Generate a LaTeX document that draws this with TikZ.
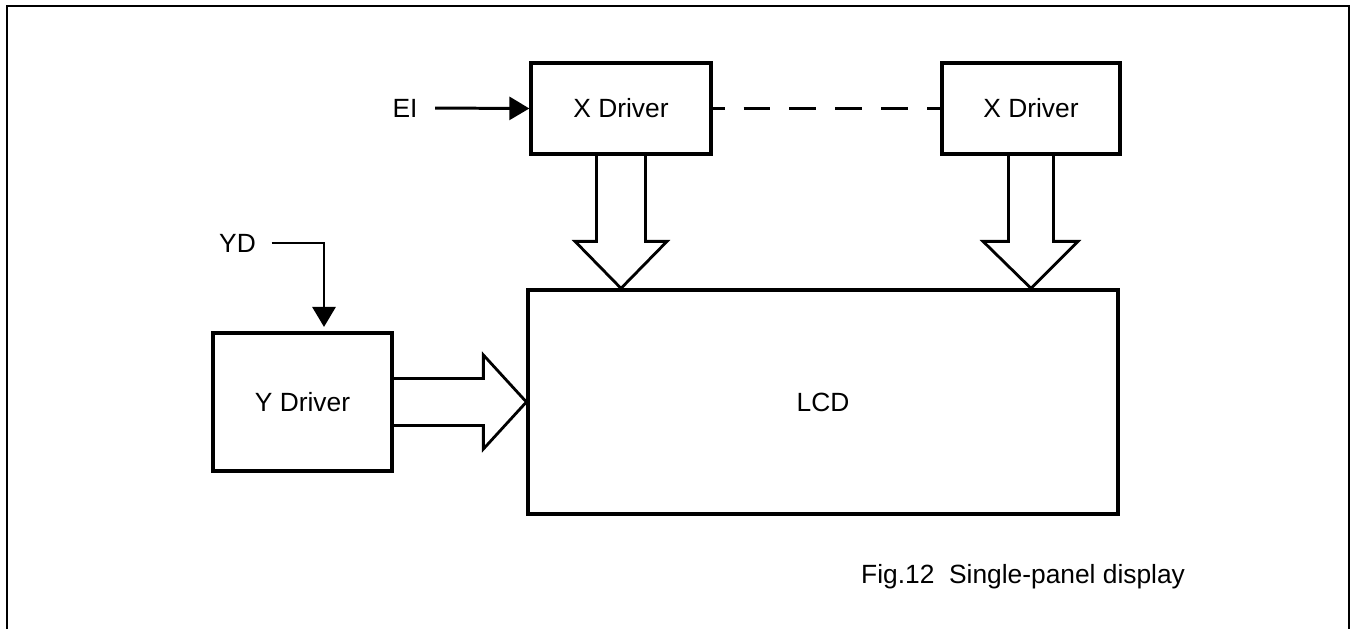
\documentclass[tikz,border=0pt]{standalone}
\usepackage{fontspec}
\setmainfont{Liberation Sans}
\usetikzlibrary{
		arrows.meta,
		calc
	}
\tikzset{
		>={Triangle[length=0.4cm,width=0.46cm]},
		block/.style={draw, line width=1.9pt, inner sep=0pt},
		sig/.style={->, line width=1.7pt},
		bus/.style={line width=1.6pt, line join=miter}
	}

\begin{document}
\begin{tikzpicture}[x=0.02cm, y=0.02cm, font=\fontsize{15}{18}\selectfont]
              \useasboundingbox (0,0) rectangle (1354,629);

              % the frame round the figure
              \draw[line width=1.4pt] (7,0) -- (7,623) -- (1349,623) -- (1349,0);

              % the blocks
              \node[block, minimum width=3.6cm, minimum height=1.82cm] (xd1) at (621,520.5) {X Driver};
              \node[block, minimum width=3.56cm, minimum height=1.82cm] (xd2) at (1031,520.5) {X Driver};
              \node[block, minimum width=3.58cm, minimum height=2.76cm] (yd) at (302.5,227) {Y Driver};
              \node[block, minimum width=11.8cm, minimum height=4.48cm] (lcd) at (823,227) {LCD};

              % the inputs and the caption
              \node (ei) at (405,521) {EI};
              \node (ydin) at (237.5,386) {YD};
              \node[anchor=west] (cap) at (855,52) {Fig.12\ \ Single-panel display};

              % the signal lines
              \draw[sig, shorten <=6.5pt] (ei.east) -- (xd1.west);
              \draw[sig, shorten <=5.4pt, shorten >=2.5pt] (ydin.east) -| ($(yd.north)+(21.5,0)$);
              \draw[line width=1.6pt, dash pattern=on 15.3pt off 10.8pt, dash phase=8.5pt] (xd1.east) -- (xd2.west);

              % the hollow bus arrows
              \draw[bus] ($(xd1.south)+(-24.5,0)$) |- ($(lcd.north -| xd1.south)+(-46,47)$)
                -- (lcd.north -| xd1.south) -- ++(46,47) -| ($(xd1.south)+(24.5,0)$);
              \draw[bus] ($(xd2.south)+(-22.5,0)$) |- ($(lcd.north -| xd2.south)+(-48,47)$)
                -- (lcd.north -| xd2.south) -- ++(47,47) -| ($(xd2.south)+(22.5,0)$);
              \draw[bus] ($(yd.east)+(0,23.5)$) -| ($(lcd.west |- yd.east)+(-43,47)$)
                -- (lcd.west |- yd.east) -- ++(-43,-47) |- ($(yd.east)+(0,-23.5)$);

          \end{tikzpicture}
\end{document}
